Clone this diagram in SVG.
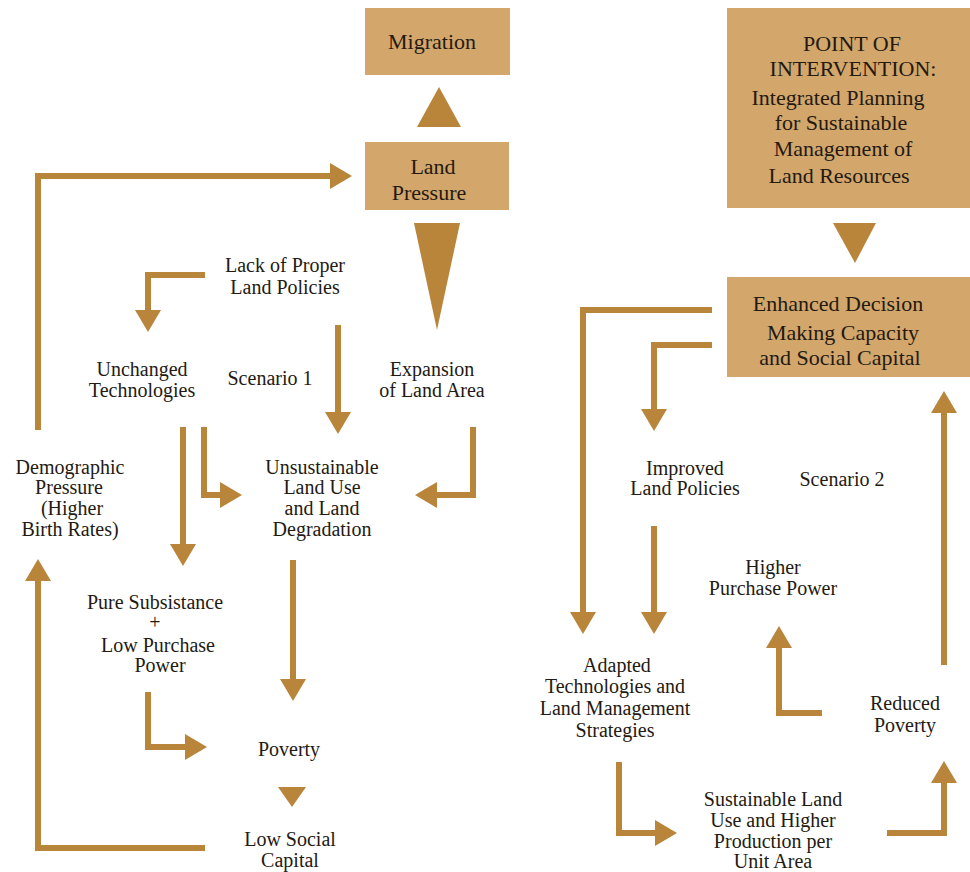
<svg xmlns="http://www.w3.org/2000/svg" width="970" height="872" viewBox="0 0 970 872">
<style>
.box{fill:#D3A66B}
.c{fill:none;stroke:#B8853B;stroke-width:6}
.tri{fill:#B8853B}
text{font-family:'Liberation Serif','DejaVu Serif',serif;fill:#231a12;text-anchor:middle}
.t{font-size:20px}
.b{font-size:22px}
</style>
<defs>
<marker id="ah" viewBox="0 0 22 26" refX="0" refY="13" markerWidth="22" markerHeight="26" markerUnits="userSpaceOnUse" orient="auto">
<path d="M0,0 L22,13 L0,26 z" fill="#B8853B"/>
</marker>
</defs>
<rect width="970" height="872" fill="#fff"/>
<g id="connectors">
<path class="c" d="M38,430 V176 H330" marker-end="url(#ah)"/>
<polygon class="tri" points="417,127 461,127 439,87"/>
<polygon class="tri" points="414,223 460,223 437,330"/>
<path class="c" d="M205,275 H148 V310" marker-end="url(#ah)"/>
<path class="c" d="M338,325 V412" marker-end="url(#ah)"/>
<path class="c" d="M183,427 V544" marker-end="url(#ah)"/>
<path class="c" d="M204,427 V495 H220" marker-end="url(#ah)"/>
<path class="c" d="M473,427 V495 H437" marker-end="url(#ah)"/>
<path class="c" d="M293,560 V679" marker-end="url(#ah)"/>
<path class="c" d="M148,692 V747 H185" marker-end="url(#ah)"/>
<polygon class="tri" points="278,787 306,787 292,807"/>
<path class="c" d="M205,848 H38 V581" marker-end="url(#ah)"/>
<polygon class="tri" points="833,223 876,223 855,263"/>
<path class="c" d="M712,310 H583 V612" marker-end="url(#ah)"/>
<path class="c" d="M712,345 H654 V409" marker-end="url(#ah)"/>
<path class="c" d="M654,526 V612" marker-end="url(#ah)"/>
<path class="c" d="M944,665 V413" marker-end="url(#ah)"/>
<path class="c" d="M822,713 H779 V648" marker-end="url(#ah)"/>
<path class="c" d="M619,762 V833 H655" marker-end="url(#ah)"/>
<path class="c" d="M887,833 H944 V783" marker-end="url(#ah)"/>
</g>
<g id="migration">
<rect class="box" x="365" y="8" width="145" height="67"/>
<text class="b" x="432" y="49">Migration</text>
</g>
<g id="land-pressure">
<rect class="box" x="365" y="142" width="144" height="68"/>
<text class="b" x="433" y="174">Land</text>
<text class="b" x="429" y="200">Pressure</text>
</g>
<g id="point-of-intervention">
<rect class="box" x="727" y="8" width="243" height="200"/>
<text class="b" x="852" y="51">POINT OF</text>
<text class="b" x="853" y="76">INTERVENTION:</text>
<text class="b" x="838" y="105">Integrated Planning</text>
<text class="b" x="841" y="130">for Sustainable</text>
<text class="b" x="843" y="156">Management of</text>
<text class="b" x="839" y="183">Land Resources</text>
</g>
<g id="enhanced-decision">
<rect class="box" x="727" y="277" width="243" height="100"/>
<text class="b" x="838" y="311">Enhanced Decision</text>
<text class="b" x="843" y="340">Making Capacity</text>
<text class="b" x="840" y="365">and Social Capital</text>
</g>
<g id="lack-policies">
<text class="t" x="285" y="272">Lack of Proper</text>
<text class="t" x="285" y="294">Land Policies</text>
</g>
<g id="unchanged-tech">
<text class="t" x="142" y="376">Unchanged</text>
<text class="t" x="142" y="397">Technologies</text>
</g>
<g id="scenario1">
<text class="t" x="270" y="385">Scenario 1</text>
</g>
<g id="expansion">
<text class="t" x="432" y="376">Expansion</text>
<text class="t" x="432" y="397">of Land Area</text>
</g>
<g id="demographic">
<text class="t" x="70" y="474">Demographic</text>
<text class="t" x="69" y="494">Pressure</text>
<text class="t" x="72" y="515">(Higher</text>
<text class="t" x="70" y="536">Birth Rates)</text>
</g>
<g id="unsustainable">
<text class="t" x="322" y="474">Unsustainable</text>
<text class="t" x="322" y="494">Land Use</text>
<text class="t" x="322" y="515">and Land</text>
<text class="t" x="322" y="536">Degradation</text>
</g>
<g id="pure-subsistance">
<text class="t" x="155" y="609">Pure Subsistance</text>
<text class="t" x="155" y="629">+</text>
<text class="t" x="158" y="652">Low Purchase</text>
<text class="t" x="160" y="672">Power</text>
</g>
<g id="poverty">
<text class="t" x="289" y="756">Poverty</text>
</g>
<g id="low-social-capital">
<text class="t" x="290" y="846">Low Social</text>
<text class="t" x="290" y="867">Capital</text>
</g>
<g id="improved-policies">
<text class="t" x="685" y="475">Improved</text>
<text class="t" x="685" y="495">Land Policies</text>
</g>
<g id="scenario2">
<text class="t" x="842" y="486">Scenario 2</text>
</g>
<g id="higher-purchase">
<text class="t" x="773" y="574">Higher</text>
<text class="t" x="773" y="595">Purchase Power</text>
</g>
<g id="adapted-tech">
<text class="t" x="617" y="672">Adapted</text>
<text class="t" x="615" y="693">Technologies and</text>
<text class="t" x="615" y="715">Land Management</text>
<text class="t" x="615" y="737">Strategies</text>
</g>
<g id="reduced-poverty">
<text class="t" x="905" y="710">Reduced</text>
<text class="t" x="905" y="732">Poverty</text>
</g>
<g id="sustainable-land-use">
<text class="t" x="773" y="806">Sustainable Land</text>
<text class="t" x="773" y="827">Use and Higher</text>
<text class="t" x="773" y="848">Production per</text>
<text class="t" x="773" y="868">Unit Area</text>
</g>
</svg>
